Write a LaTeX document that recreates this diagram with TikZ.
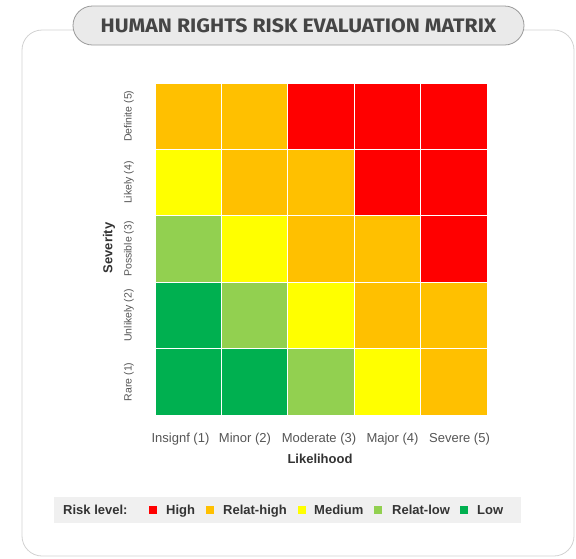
\documentclass[tikz,border=0pt]{standalone}
\usepackage{fontspec}
\setmainfont{Liberation Sans}
\newfontfamily\titlefont{Fira Sans}[FakeStretch=1.09]
\definecolor{high}{HTML}{FF0000}
\definecolor{relhigh}{HTML}{FFC000}
\definecolor{medium}{HTML}{FFFF00}
\definecolor{rellow}{HTML}{92D050}
\definecolor{low}{HTML}{00B050}
\definecolor{labgray}{HTML}{555555}
\definecolor{darktext}{HTML}{333333}
\definecolor{cardline}{HTML}{D2D2D2}
\definecolor{pillfill}{HTML}{EAEAEA}
\definecolor{pillline}{HTML}{9A9A9A}
\definecolor{titletext}{HTML}{454545}
\definecolor{legendfill}{HTML}{F0F0F0}
\begin{document}
\begin{tikzpicture}[x=1pt,y=-1pt,
  cell/.style={minimum size=65.4pt, inner sep=0pt, outer sep=0pt},
  ylab/.style={rotate=90, inner sep=0pt, text=labgray, font=\fontsize{10.5}{12}\selectfont},
  xlab/.style={anchor=base, inner sep=0pt, text=labgray, font=\fontsize{13}{15}\selectfont},
  axistitle/.style={inner sep=0pt, text=darktext, font=\fontsize{13}{15}\selectfont\bfseries},
  key/.style={minimum size=8pt, inner sep=0pt},
  keytext/.style={anchor=base west, inner sep=0pt, text=darktext, font=\fontsize{13}{15}\selectfont\bfseries}]
\useasboundingbox (0,0) rectangle (576,558);
\draw[cardline, fill=white, line width=0.8pt, rounded corners=20pt] (22,30) rectangle (574,556);
\node[draw=pillline, fill=pillfill, line width=0.8pt, rounded corners=19.5pt, minimum width=451pt, minimum height=39pt, inner sep=0pt, text=titletext, font=\titlefont\bfseries\fontsize{19.5}{22}\selectfont] (title) at (298.5,25.5) {HUMAN RIGHTS RISK EVALUATION MATRIX};
\node[cell, fill=relhigh] (c51) at (188.2,116.2) {};
\node[cell, fill=relhigh] (c52) at (254.6,116.2) {};
\node[cell, fill=high] (c53) at (321,116.2) {};
\node[cell, fill=high] (c54) at (387.4,116.2) {};
\node[cell, fill=high] (c55) at (453.8,116.2) {};
\node[cell, fill=medium] (c41) at (188.2,182.6) {};
\node[cell, fill=relhigh] (c42) at (254.6,182.6) {};
\node[cell, fill=relhigh] (c43) at (321,182.6) {};
\node[cell, fill=high] (c44) at (387.4,182.6) {};
\node[cell, fill=high] (c45) at (453.8,182.6) {};
\node[cell, fill=rellow] (c31) at (188.2,249) {};
\node[cell, fill=medium] (c32) at (254.6,249) {};
\node[cell, fill=relhigh] (c33) at (321,249) {};
\node[cell, fill=relhigh] (c34) at (387.4,249) {};
\node[cell, fill=high] (c35) at (453.8,249) {};
\node[cell, fill=low] (c21) at (188.2,315.4) {};
\node[cell, fill=rellow] (c22) at (254.6,315.4) {};
\node[cell, fill=medium] (c23) at (321,315.4) {};
\node[cell, fill=relhigh] (c24) at (387.4,315.4) {};
\node[cell, fill=relhigh] (c25) at (453.8,315.4) {};
\node[cell, fill=low] (c11) at (188.2,381.8) {};
\node[cell, fill=low] (c12) at (254.6,381.8) {};
\node[cell, fill=rellow] (c13) at (321,381.8) {};
\node[cell, fill=medium] (c14) at (387.4,381.8) {};
\node[cell, fill=relhigh] (c15) at (453.8,381.8) {};
\node[ylab] (sev5) at (129,116.2) {Definite (5)};
\node[ylab] (sev4) at (129,182.6) {Likely (4)};
\node[ylab] (sev3) at (129,249) {Possible (3)};
\node[ylab] (sev2) at (129,315.4) {Unlikely (2)};
\node[ylab] (sev1) at (129,381.8) {Rare (1)};
\node[axistitle, rotate=90] (severity) at (109,248) {Severity};
\node[xlab] (lik1) at (180.5,442) {Insignf (1)};
\node[xlab] (lik2) at (245,442) {Minor (2)};
\node[xlab] (lik3) at (319,442) {Moderate (3)};
\node[xlab] (lik4) at (392.5,442) {Major (4)};
\node[xlab] (lik5) at (459.5,442) {Severe (5)};
\node[axistitle, anchor=base] (likelihood) at (320,463) {Likelihood};
\node[fill=legendfill, minimum width=467pt, minimum height=26pt, inner sep=0pt] (legend) at (287.5,510) {};
\node[keytext] (risklevel) at (63,514) {Risk level:};
\node[key, fill=high] (khigh) at (153,510) {};
\node[keytext] (thigh) at (166,514) {High};
\node[key, fill=relhigh] (krelhigh) at (210,510) {};
\node[keytext] (trelhigh) at (223,514) {Relat-high};
\node[key, fill=medium] (kmedium) at (302,510) {};
\node[keytext] (tmedium) at (314,514) {Medium};
\node[key, fill=rellow] (krellow) at (378,510) {};
\node[keytext] (trellow) at (392,514) {Relat-low};
\node[key, fill=low] (klow) at (464,510) {};
\node[keytext] (tlow) at (477,514) {Low};
\end{tikzpicture}
\end{document}
